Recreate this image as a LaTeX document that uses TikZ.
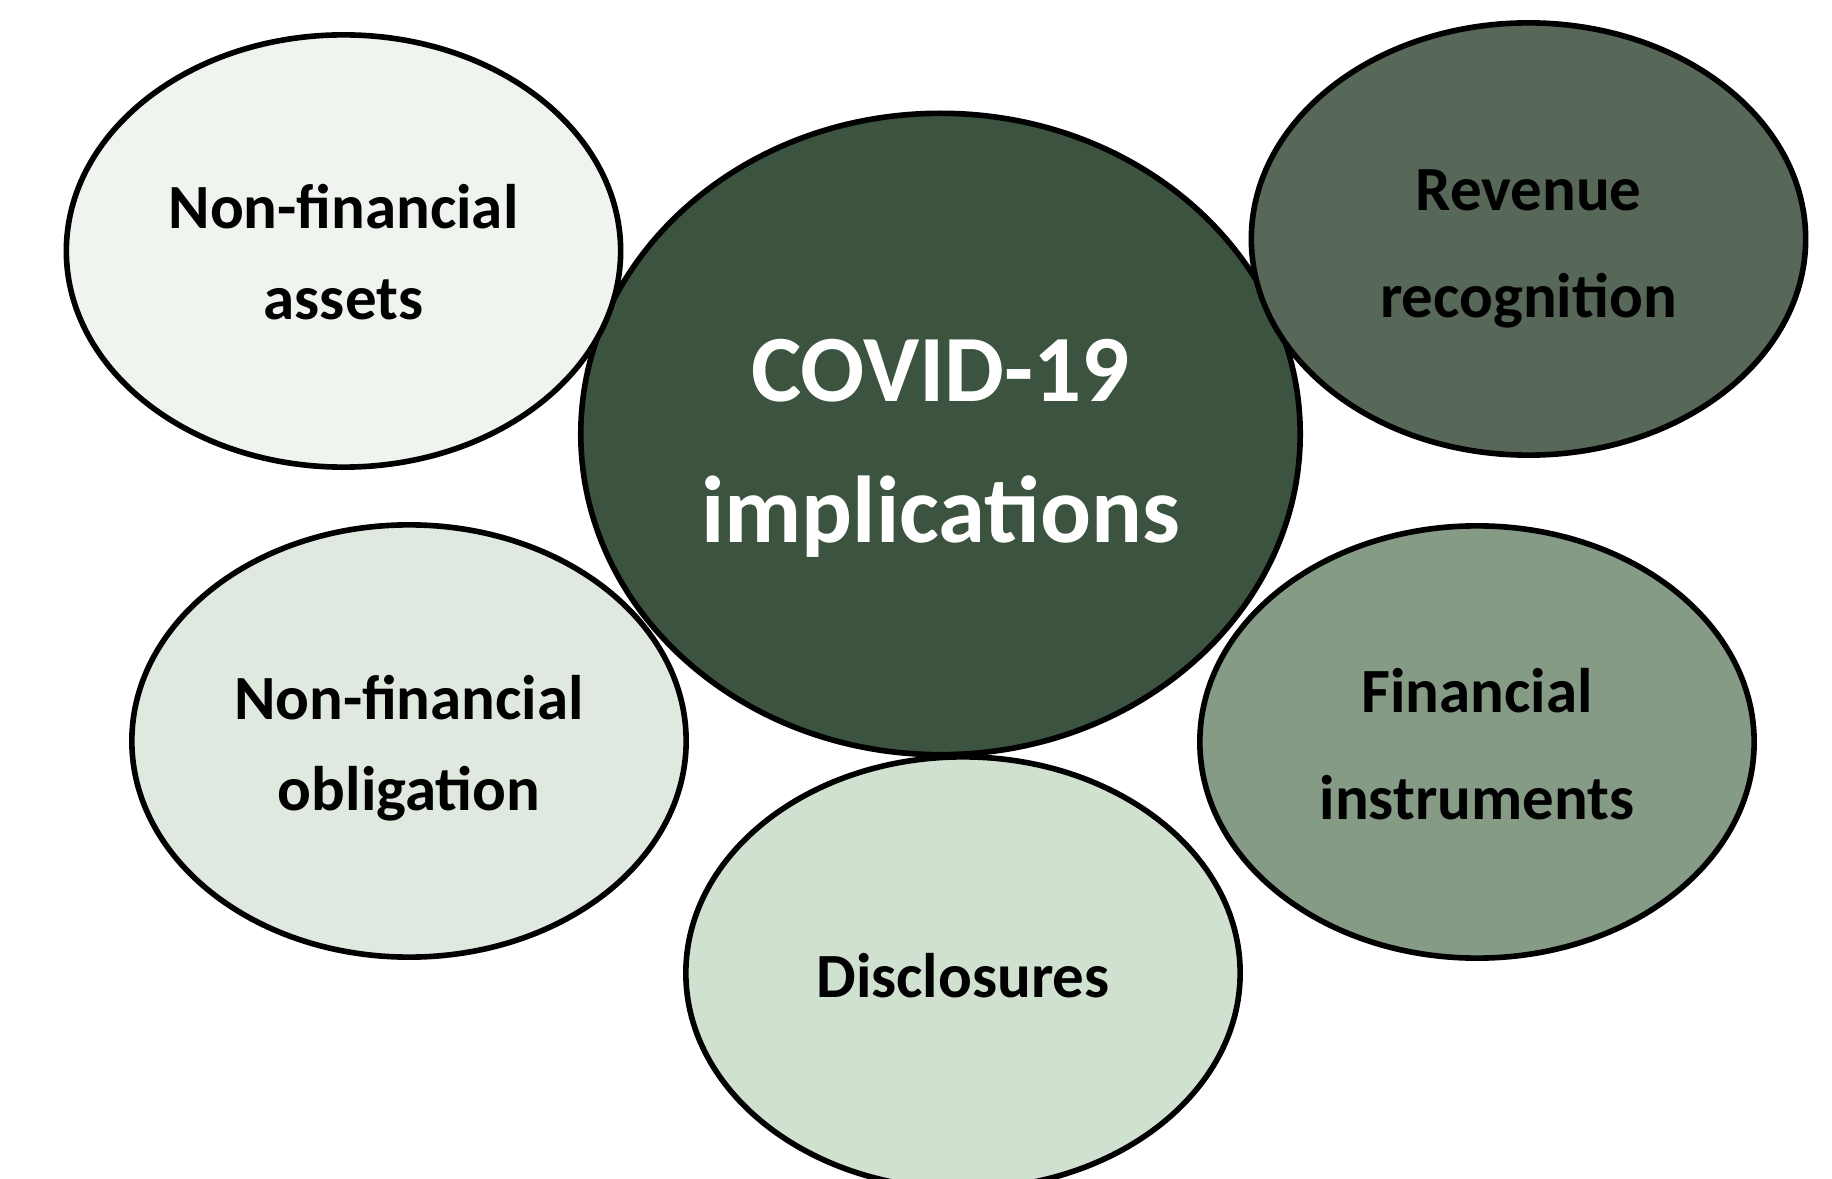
\documentclass[tikz,border=0pt]{standalone}
\usepackage{fontspec}
\setmainfont{Carlito}
\usepackage{xcolor}
\usepackage{tikz}
\usetikzlibrary{shapes.geometric}
\definecolor{clrHub}{RGB}{59,83,63}
\definecolor{clrRev}{RGB}{87,103,88}
\definecolor{clrFin}{RGB}{134,155,134}
\definecolor{clrDis}{RGB}{208,225,208}
\definecolor{clrObl}{RGB}{224,233,224}
\definecolor{clrAst}{RGB}{239,244,239}
\tikzset{
  bubble/.style={ellipse,draw=black,line width=1.6pt,minimum width=5.54cm,
    minimum height=4.32cm,inner sep=0pt},
  hub/.style={bubble,minimum width=7.19cm,minimum height=6.41cm},
  topic/.style={align=center,inner sep=0pt,
    font=\bfseries\fontsize{17.9pt}{25.9pt}\selectfont},
  topicR/.style={topic,font=\bfseries\fontsize{17.9pt}{30.4pt}\selectfont},
  hubtext/.style={topic,text=white,font=\bfseries\fontsize{27pt}{40pt}\selectfont}
}

\begin{document}
\begin{tikzpicture}[x=0.01cm,y=-0.01cm]
  \useasboundingbox (0,0) rectangle (1832,1179);
  \fill[white] (0,0) rectangle (1832,1179);
  \clip (0,0) rectangle (1832,1179);
  % centre first, the five topics on top of it
  \node[hub,fill=clrHub] (covid) at (940.5,434) {};
  \node[bubble,fill=clrAst] (assets) at (343.5,251) {};
  \node[bubble,fill=clrRev] (revenue) at (1528.5,239) {};
  \node[bubble,fill=clrObl] (oblig) at (409,741) {};
  \node[bubble,fill=clrFin] (instr) at (1477,742) {};
  \node[bubble,fill=clrDis] (discl) at (963,973) {};
  % labels
  \node[hubtext] (covidtxt) at ([yshift=-0.14cm]covid.center) {COVID-19\\implications};
  \node[topic] (assetstxt) at ([yshift=-0.01cm]assets.center) {Non-financial\\assets};
  \node[topicR] (revenuetxt) at ([yshift=-0.10cm]revenue.center) {Revenue\\recognition};
  \node[topic] (obligtxt) at ([yshift=-0.07cm]oblig.center) {Non-financial\\obligation};
  \node[topicR] (instrtxt) at ([yshift=-0.02cm]instr.center) {Financial\\instruments};
  \node[topic] (discltxt) at ([yshift=-0.03cm]discl.center) {Disclosures};
\end{tikzpicture}
\end{document}
